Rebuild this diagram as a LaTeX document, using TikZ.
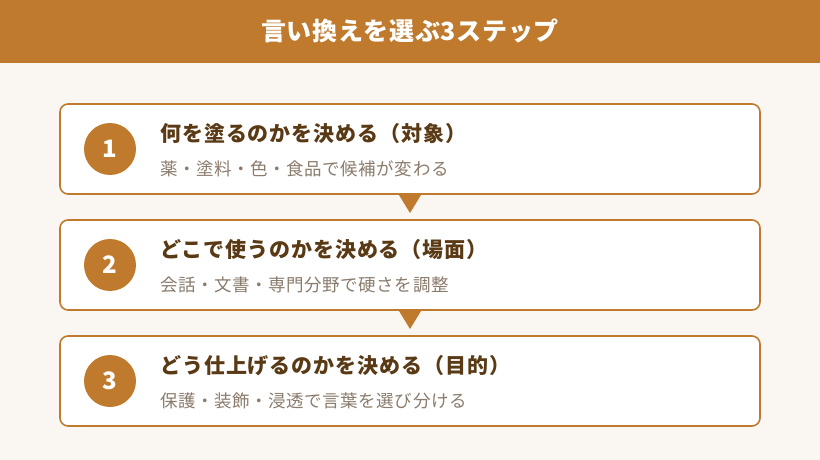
\documentclass[tikz,border=0pt]{standalone}
\usepackage{fontspec}
\setmainfont{Noto Sans CJK JP}
\definecolor{accent}{HTML}{C07A2E}
\definecolor{bgc}{HTML}{FAF7F3}
\definecolor{ttl}{HTML}{5A3A15}
\definecolor{sub}{HTML}{8A7B6C}
\begin{document}
\begin{tikzpicture}[x=1pt,y=-1pt,
  stepbox/.style={draw=accent,line width=1.6pt,fill=white,rounded corners=8pt},
  numc/.style={circle,fill=accent,minimum size=52pt,inner sep=0pt,text=white,font=\fontsize{24}{24}\selectfont\bfseries},
  ttltext/.style={anchor=west,inner sep=0pt,text=ttl,font=\fontsize{21}{21}\selectfont\bfseries\addfontfeatures{LetterSpace=4.5}},
  subtext/.style={anchor=west,inner sep=0pt,text=sub,font=\fontsize{17.5}{17.5}\selectfont\addfontfeatures{LetterSpace=3.2}},
  tri/.style={fill=accent}]
\useasboundingbox (0,0) rectangle (820,460);
\fill[bgc] (0,0) rectangle (820,460);
\fill[accent] (0,0) rectangle (820,63);
\node[text=white,font=\fontsize{25}{25}\selectfont\bfseries\addfontfeatures{LetterSpace=2.8}] (hdr) at (410,31) {言い換えを選ぶ3ステップ};
\foreach \i/\y/\t/\s in {1/104/何を塗るのかを決める（対象）/薬・塗料・色・食品で候補が変わる,
  2/220/どこで使うのかを決める（場面）/会話・文書・専門分野で硬さを調整,
  3/336/どう仕上げるのかを決める（目的）/保護・装飾・浸透で言葉を選び分ける}{
  \draw[stepbox] (60,\y) rectangle (760,\y+90);
  \node[numc] (n\i) at (110,\y+45) {\i};
  \node[ttltext] (t\i) at (160,\y+30) {\t};
  \node[subtext] (s\i) at (160,\y+65) {\s};
}
\foreach \y in {195,311}{
  \fill[tri] (399,\y) -- (421,\y) -- (410,\y+18) -- cycle;
}
\end{tikzpicture}
\end{document}
